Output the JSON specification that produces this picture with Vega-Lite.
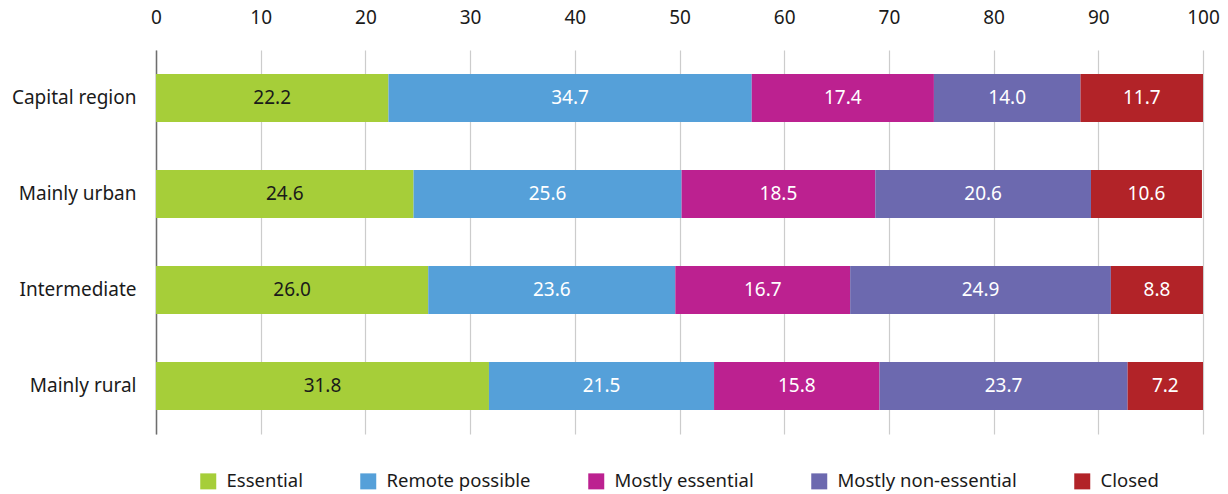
{
  "$schema": "https://vega.github.io/schema/vega-lite/v6.json",
  "width": 1047,
  "height": 384,
  "autosize": {"type": "pad"},
  "padding": {"left": 0, "top": 0, "right": 25, "bottom": 2},
  "background": "white",
  "config": {
    "font": "Noto Sans",
    "view": {"stroke": null},
    "axis": {"labelFont": "Noto Sans", "labelFontSize": 19, "labelColor": "#1a1a1a"}
  },
  "data": {
    "values": [
      {"region": "Capital region", "cat": "Essential", "k": 1, "share": 22.2},
      {"region": "Capital region", "cat": "Remote possible", "k": 2, "share": 34.7},
      {"region": "Capital region", "cat": "Mostly essential", "k": 3, "share": 17.4},
      {"region": "Capital region", "cat": "Mostly non-essential", "k": 4, "share": 14.0},
      {"region": "Capital region", "cat": "Closed", "k": 5, "share": 11.7},
      {"region": "Mainly urban", "cat": "Essential", "k": 1, "share": 24.6},
      {"region": "Mainly urban", "cat": "Remote possible", "k": 2, "share": 25.6},
      {"region": "Mainly urban", "cat": "Mostly essential", "k": 3, "share": 18.5},
      {"region": "Mainly urban", "cat": "Mostly non-essential", "k": 4, "share": 20.6},
      {"region": "Mainly urban", "cat": "Closed", "k": 5, "share": 10.6},
      {"region": "Intermediate", "cat": "Essential", "k": 1, "share": 26.0},
      {"region": "Intermediate", "cat": "Remote possible", "k": 2, "share": 23.6},
      {"region": "Intermediate", "cat": "Mostly essential", "k": 3, "share": 16.7},
      {"region": "Intermediate", "cat": "Mostly non-essential", "k": 4, "share": 24.9},
      {"region": "Intermediate", "cat": "Closed", "k": 5, "share": 8.8},
      {"region": "Mainly rural", "cat": "Essential", "k": 1, "share": 31.8},
      {"region": "Mainly rural", "cat": "Remote possible", "k": 2, "share": 21.5},
      {"region": "Mainly rural", "cat": "Mostly essential", "k": 3, "share": 15.8},
      {"region": "Mainly rural", "cat": "Mostly non-essential", "k": 4, "share": 23.7},
      {"region": "Mainly rural", "cat": "Closed", "k": 5, "share": 7.2}
    ]
  },
  "transform": [
    {"stack": "share", "groupby": ["region"], "sort": [{"field": "k", "order": "ascending"}], "as": ["s0", "s1"]},
    {"calculate": "(datum.s0 + datum.s1) / 2", "as": "mid"}
  ],
  "encoding": {
    "y": {
      "field": "region",
      "type": "nominal",
      "sort": ["Capital region", "Mainly urban", "Intermediate", "Mainly rural"],
      "scale": {"paddingInner": 0.5, "paddingOuter": 0.25},
      "axis": {
        "title": null,
        "ticks": false,
        "labelPadding": 20,
        "domainColor": "#6e6e6e",
        "domainWidth": 1.5,
        "minExtent": 156,
        "maxExtent": 156
      }
    }
  },
  "layer": [
    {
      "mark": {"type": "bar"},
      "encoding": {
        "x": {
          "field": "s0",
          "type": "quantitative",
          "scale": {"domain": [0, 100], "nice": false},
          "axis": {
            "orient": "top",
            "title": null,
            "values": [0, 10, 20, 30, 40, 50, 60, 70, 80, 90, 100],
            "labelFlush": false,
            "domain": false,
            "ticks": false,
            "tickSize": 0,
            "labelPadding": 23,
            "gridColor": "#cccccc",
            "gridWidth": 1.2,
            "minExtent": 50,
            "maxExtent": 50
          }
        },
        "x2": {"field": "s1"},
        "color": {
          "field": "cat",
          "type": "nominal",
          "scale": {
            "domain": ["Essential", "Remote possible", "Mostly essential", "Mostly non-essential", "Closed"],
            "range": ["#a6ce39", "#55a0d9", "#bc2190", "#6c69af", "#b22328"]
          },
          "legend": {
            "title": null,
            "orient": "none",
            "legendX": 43,
            "legendY": 422,
            "direction": "horizontal",
            "columns": 5,
            "padding": 0,
            "symbolType": "square",
            "symbolSize": 256,
            "symbolStrokeWidth": 0,
            "symbolOpacity": 1,
            "labelFont": "Noto Sans",
            "labelFontSize": 18.5,
            "labelColor": "#1a1a1a",
            "labelOffset": 9,
            "labelBaseline": "middle",
            "columnPadding": 56,
            "labelLimit": 400
          }
        }
      }
    },
    {
      "mark": {"type": "text", "fontSize": 19, "font": "Noto Sans", "baseline": "middle", "align": "center"},
      "encoding": {
        "x": {"field": "mid", "type": "quantitative"},
        "text": {"field": "share", "type": "quantitative", "format": ".1f"},
        "color": {
          "condition": {"test": "datum.cat === 'Essential'", "value": "#1a1a1a"},
          "value": "#ffffff"
        }
      }
    }
  ]
}
